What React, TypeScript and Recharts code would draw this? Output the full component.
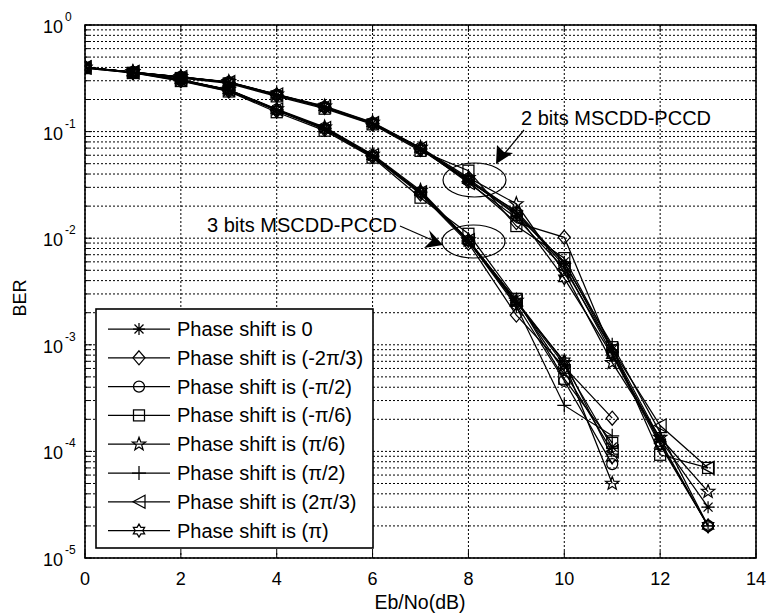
import { LineChart, Line, XAxis, YAxis, CartesianGrid } from 'recharts';

const FONT = '"Liberation Sans", Arial, Helvetica, sans-serif';

// Eb/No (dB) points
const EBNO_2BIT = [0, 1, 2, 3, 4, 5, 6, 7, 8, 9, 10, 11, 12, 13];
const EBNO_3BIT = [0, 1, 2, 3, 4, 5, 6, 7, 8, 9, 10, 11];

// 2 bits MSCDD-PCCD
const two0 = [0.40, 0.36, 0.325, 0.29, 0.22, 0.17, 0.119, 0.069, 0.035, 0.0165, 0.0060, 9.0e-4, 1.3e-4, 3.0e-5];
const twoM2pi3 = [0.40, 0.358, 0.323, 0.288, 0.218, 0.168, 0.118, 0.068, 0.034, 0.0140, 0.0102, 8.5e-4, 1.2e-4, 2.0e-5];
const twoMpi2 = [0.40, 0.362, 0.326, 0.291, 0.222, 0.171, 0.121, 0.070, 0.036, 0.0175, 0.0055, 8.2e-4, 1.25e-4, 2.0e-5];
const twoMpi6 = [0.395, 0.355, 0.318, 0.283, 0.214, 0.164, 0.117, 0.066, 0.043, 0.0130, 0.0065, 9.5e-4, 9.3e-5, 7.0e-5];
const twoPi6 = [0.40, 0.362, 0.327, 0.293, 0.224, 0.173, 0.122, 0.071, 0.037, 0.0210, 0.0048, 6.8e-4, 1.35e-4, 4.2e-5];
const twoPi2 = [0.40, 0.36, 0.324, 0.289, 0.221, 0.169, 0.119, 0.069, 0.034, 0.0180, 0.0058, 1.0e-3, 1.5e-4, 2.0e-5];
const two2pi3 = [0.40, 0.361, 0.325, 0.291, 0.223, 0.171, 0.120, 0.070, 0.033, 0.0155, 0.0052, 9.0e-4, 1.75e-4, 7.0e-5];
const twoPi = [0.40, 0.36, 0.326, 0.29, 0.222, 0.17, 0.120, 0.069, 0.035, 0.0170, 0.0042, 8.0e-4, 1.15e-4, 2.0e-5];

// 3 bits MSCDD-PCCD
const three0 = [0.40, 0.36, 0.305, 0.245, 0.16, 0.107, 0.059, 0.027, 0.0093, 0.0025, 6.5e-4, 1.1e-4];
const threeM2pi3 = [0.40, 0.358, 0.30, 0.24, 0.157, 0.105, 0.058, 0.026, 0.0090, 0.0019, 6.2e-4, 2.05e-4];
const threeMpi2 = [0.40, 0.36, 0.306, 0.246, 0.161, 0.108, 0.060, 0.027, 0.0095, 0.0024, 4.6e-4, 7.6e-5];
const threeMpi6 = [0.395, 0.355, 0.298, 0.238, 0.152, 0.102, 0.057, 0.024, 0.011, 0.0027, 4.8e-4, 1.2e-4];
const threePi6 = [0.40, 0.362, 0.308, 0.248, 0.163, 0.110, 0.061, 0.028, 0.0096, 0.0026, 6.8e-4, 5.0e-5];
const threePi2 = [0.40, 0.36, 0.305, 0.245, 0.16, 0.107, 0.059, 0.027, 0.0094, 0.0023, 2.7e-4, 1.4e-4];
const three2pi3 = [0.40, 0.361, 0.306, 0.246, 0.161, 0.108, 0.060, 0.027, 0.0096, 0.0026, 5.6e-4, 1.0e-4];
const threePi = [0.40, 0.36, 0.305, 0.245, 0.16, 0.107, 0.059, 0.027, 0.0095, 0.0025, 7.0e-4, 8.8e-5];

const LABELS = [
  'Phase shift is 0',
  'Phase shift is (-2π/3)',
  'Phase shift is (-π/2)',
  'Phase shift is (-π/6)',
  'Phase shift is (π/6)',
  'Phase shift is (π/2)',
  'Phase shift is (2π/3)',
  'Phase shift is (π)',
];
const SHAPES = ['asterisk', 'diamond', 'circle', 'square', 'pentagram', 'plus', 'triangle', 'hexagram'];
const TWO_BIT = [two0, twoM2pi3, twoMpi2, twoMpi6, twoPi6, twoPi2, two2pi3, twoPi];
const THREE_BIT = [three0, threeM2pi3, threeMpi2, threeMpi6, threePi6, threePi2, three2pi3, threePi];

const X_TICKS = [0, 2, 4, 6, 8, 10, 12, 14];
const DECADES = [-5, -4, -3, -2, -1, 0];
const MINORS = [2, 3, 4, 5, 6, 7, 8, 9];
const Y_TICKS: number[] = [];
DECADES.forEach((e) => {
  Y_TICKS.push(Math.pow(10, e));
  if (e < 0) MINORS.forEach((m) => Y_TICKS.push(m * Math.pow(10, e)));
});

const W = 767;
const H = 615;
const PLOT_LEFT = 85;
const PLOT_RIGHT = 756;
const PLOT_TOP = 25;
const PLOT_BOTTOM = 558;
const LW = 1.25;

function starPoints(cx: number, cy: number, n: number, ro: number, ri: number) {
  const pts: string[] = [];
  for (let i = 0; i < n * 2; i++) {
    const r = i % 2 === 0 ? ro : ri;
    const a = -Math.PI / 2 + (i * Math.PI) / n;
    pts.push(`${cx + r * Math.cos(a)},${cy + r * Math.sin(a)}`);
  }
  return pts.join(' ');
}

function Marker({ shape, cx, cy }: { shape: string; cx: number; cy: number }) {
  const st = { fill: 'none', stroke: '#000', strokeWidth: LW };
  if (cx == null || cy == null || isNaN(cx) || isNaN(cy)) return <g />;
  switch (shape) {
    case 'asterisk':
      return (
        <path
          {...st}
          d={`M${cx - 6},${cy}L${cx + 6},${cy}M${cx},${cy - 6}L${cx},${cy + 6}M${cx - 4.5},${cy - 4.5}L${cx + 4.5},${cy + 4.5}M${cx - 4.5},${cy + 4.5}L${cx + 4.5},${cy - 4.5}`}
        />
      );
    case 'diamond':
      return <polygon {...st} points={`${cx},${cy - 7} ${cx + 6},${cy} ${cx},${cy + 7} ${cx - 6},${cy}`} />;
    case 'circle':
      return <circle {...st} cx={cx} cy={cy} r={5.5} />;
    case 'square':
      return <rect {...st} x={cx - 5.5} y={cy - 5.5} width={11} height={11} />;
    case 'pentagram':
      return <polygon {...st} points={starPoints(cx, cy, 5, 7, 2.9)} />;
    case 'plus':
      return <path {...st} d={`M${cx - 7},${cy}L${cx + 7},${cy}M${cx},${cy - 7}L${cx},${cy + 7}`} />;
    case 'triangle':
      return <polygon {...st} points={`${cx - 6},${cy} ${cx + 6},${cy - 6.5} ${cx + 6},${cy + 6.5}`} />;
    case 'hexagram':
      return <polygon {...st} points={starPoints(cx, cy, 6, 6.5, 3.8)} />;
    default:
      return <g />;
  }
}

function XTick(props: any) {
  const { x, y, payload } = props;
  return (
    <g>
      <line x1={x} y1={PLOT_BOTTOM} x2={x} y2={PLOT_BOTTOM - 7} stroke="#000" />
      <line x1={x} y1={PLOT_TOP} x2={x} y2={PLOT_TOP + 7} stroke="#000" />
      <text x={x} y={y + 27} textAnchor="middle" fontSize={18} fontFamily={FONT} fill="#000">
        {payload.value}
      </text>
    </g>
  );
}

function YTick(props: any) {
  const { y, payload } = props;
  const v = payload.value;
  const lg = Math.log10(v);
  const isDecade = Math.abs(lg - Math.round(lg)) < 1e-9;
  const len = isDecade ? 7 : 4;
  return (
    <g>
      <line x1={PLOT_LEFT} y1={y} x2={PLOT_LEFT + len} y2={y} stroke="#000" />
      <line x1={PLOT_RIGHT} y1={y} x2={PLOT_RIGHT - len} y2={y} stroke="#000" />
      {isDecade && (
        <g fontFamily={FONT} fill="#000">
          <text x={63} y={y + 8} textAnchor="end" fontSize={18}>10</text>
          <text x={65} y={y - 4} textAnchor="start" fontSize={12}>{Math.round(lg)}</text>
        </g>
      )}
    </g>
  );
}

function Overlay() {
  const rowY = (i: number) => 329 + i * 28.8;
  return (
    <svg
      width={W}
      height={H}
      style={{ position: 'absolute', left: 0, top: 0, pointerEvents: 'none' }}
      fontFamily={FONT}
    >
      <rect
        x={PLOT_LEFT}
        y={PLOT_TOP}
        width={PLOT_RIGHT - PLOT_LEFT}
        height={PLOT_BOTTOM - PLOT_TOP}
        fill="none"
        stroke="#000"
        strokeWidth={1.6}
      />
      {/* annotations */}
      <text x={521} y={125} fontSize={20} fill="#000">2 bits MSCDD-PCCD</text>
      <line x1={524} y1={130} x2={505} y2={153} stroke="#000" strokeWidth={1.2} />
      <polygon points="496,164 497,145 504,152 513,153" fill="#000" />
      <ellipse cx={474.5} cy={180} rx={31.5} ry={17} fill="none" stroke="#000" strokeWidth={1.2} />

      <text x={207} y={232} fontSize={20} fill="#000">3 bits MSCDD-PCCD</text>
      <line x1={400} y1={226} x2={432} y2={240} stroke="#000" strokeWidth={1.2} />
      <polygon points="443,245 424,248 432,240 429,230" fill="#000" />
      <ellipse cx={473.5} cy={241.5} rx={31.5} ry={16.5} fill="none" stroke="#000" strokeWidth={1.2} />

      {/* legend */}
      <rect x={96} y={309} width={277} height={239} fill="#fff" stroke="#000" strokeWidth={1.6} />
      {LABELS.map((label, i) => (
        <g key={label}>
          <line x1={108} y1={rowY(i)} x2={170} y2={rowY(i)} stroke="#000" strokeWidth={LW} />
          <Marker shape={SHAPES[i]} cx={139} cy={rowY(i)} />
          <text x={177} y={rowY(i) + 7} fontSize={20} fill="#000">{label}</text>
        </g>
      ))}

      <text x={26} y={298} fontSize={18} fill="#000" textAnchor="middle" transform="rotate(-90 26 298)">BER</text>
      <text x={420} y={609} fontSize={19.5} fill="#000" textAnchor="middle">Eb/No(dB)</text>
    </svg>
  );
}

export default function App() {
  const series = [
    ...TWO_BIT.map((vals, i) => ({
      id: `two-${i}`,
      shape: SHAPES[i],
      data: vals.map((v, k) => ({ x: EBNO_2BIT[k], ber: v })),
    })),
    ...THREE_BIT.map((vals, i) => ({
      id: `three-${i}`,
      shape: SHAPES[i],
      data: vals.map((v, k) => ({ x: EBNO_3BIT[k], ber: v })),
    })),
  ];

  return (
    <div style={{ position: 'absolute', left: 0, top: 0, width: W, height: H, background: '#fff' }}>
      <LineChart width={W} height={H} margin={{ top: PLOT_TOP, right: W - PLOT_RIGHT, bottom: 0, left: 0 }}>
        <CartesianGrid stroke="#000" strokeDasharray="2 2" strokeWidth={1} />
        <XAxis
          dataKey="x"
          type="number"
          domain={[0, 14]}
          ticks={X_TICKS}
          height={H - PLOT_BOTTOM}
          axisLine={false}
          tickLine={false}
          tickSize={0}
          tickMargin={0}
          tick={<XTick />}
          allowDataOverflow
        />
        <YAxis
          dataKey="ber"
          type="number"
          scale="log"
          domain={[1e-5, 1]}
          ticks={Y_TICKS}
          width={PLOT_LEFT}
          axisLine={false}
          tickLine={false}
          tickSize={0}
          tickMargin={0}
          tick={<YTick />}
          interval={0}
          allowDataOverflow
        />
        {series.map((s) => (
          <Line
            key={s.id}
            data={s.data}
            dataKey="ber"
            type="linear"
            stroke="#000"
            strokeWidth={LW}
            isAnimationActive={false}
            legendType="none"
            dot={(p: any) => <Marker key={`${s.id}-${p.index}`} shape={s.shape} cx={p.cx} cy={p.cy} />}
            activeDot={false}
          />
        ))}
      </LineChart>
      <Overlay />
    </div>
  );
}
